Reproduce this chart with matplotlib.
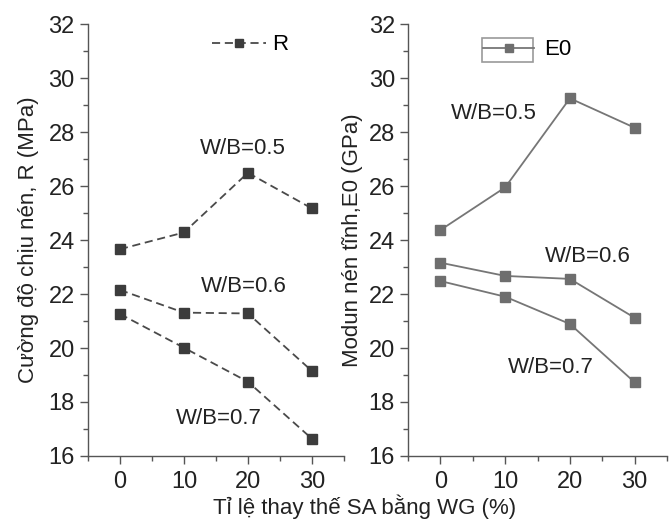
import matplotlib.pyplot as plt
from matplotlib.patches import Rectangle
from matplotlib.ticker import MultipleLocator

plt.rcParams['font.family'] = ['Liberation Sans', 'DejaVu Sans']

# Ti le thay the SA bang WG (%)
replace_pct = [0, 10, 20, 30]

# Cuong do chiu nen R (MPa)
r_wb05 = [23.66, 24.28, 26.49, 25.17]
r_wb06 = [22.15, 21.31, 21.28, 19.15]
r_wb07 = [21.26, 20.01, 18.75, 16.64]

# Modun nen tinh E0 (GPa)
e_wb05 = [24.37, 25.95, 29.25, 28.16]
e_wb06 = [23.16, 22.67, 22.56, 21.12]
e_wb07 = [22.48, 21.90, 20.89, 18.73]

wb_labels = ['W/B=0.5', 'W/B=0.6', 'W/B=0.7']

TICK = 17
TXT = 16

fig = plt.figure(figsize=(6.69, 5.21), dpi=100)
ax1 = fig.add_axes([0.1315, 0.1248, 0.3825, 0.829])
ax2 = fig.add_axes([0.610, 0.1248, 0.387, 0.829])

dark = '#3c3c3c'
gray = '#767676'

for i, ys in enumerate([r_wb05, r_wb06, r_wb07]):
    ax1.plot(replace_pct, ys, linestyle=(0, (4.5, 2.6)), color='#4a4a4a', lw=1.3,
             marker='s', ms=7, mfc=dark, mec=dark, label='R' if i == 0 else None)
for i, ys in enumerate([e_wb05, e_wb06, e_wb07]):
    ax2.plot(replace_pct, ys, '-', color=gray, lw=1.3,
             marker='s', ms=7, mfc='#6e6e6e', mec='#6e6e6e', label='E0' if i == 0 else None)

for ax in (ax1, ax2):
    ax.set_xlim(-5, 35)
    ax.set_ylim(16, 32)
    ax.xaxis.set_major_locator(MultipleLocator(10))
    ax.xaxis.set_minor_locator(MultipleLocator(5))
    ax.yaxis.set_major_locator(MultipleLocator(2))
    ax.yaxis.set_minor_locator(MultipleLocator(1))
    ax.spines['top'].set_visible(False)
    ax.spines['right'].set_visible(False)
    for s in ('left', 'bottom'):
        ax.spines[s].set_color('#555555')
        ax.spines[s].set_linewidth(1.0)
    ax.tick_params(which='major', direction='out', length=6, width=1.0,
                   color='#555555', labelsize=TICK, labelcolor='#222222')
    ax.tick_params(which='minor', direction='out', length=3.5, width=1.0, color='#555555')
    ax.tick_params(axis='x', which='major', pad=5)

ax1.set_ylabel('Cường độ chịu nén, R (MPa)', fontsize=TXT, color='#222222', labelpad=7)
ax2.set_ylabel('Modun nén tĩnh,E0 (GPa)', fontsize=TXT, color='#222222', labelpad=4)
fig.text(0.545, 0.004, 'Tỉ lệ thay thế SA bằng WG (%)', fontsize=TXT,
         color='#222222', ha='center', va='bottom')

# nhan W/B tren tung do thi
for (x, y), t in zip([(19.2, 27.4), (19.3, 22.26), (15.5, 17.4)], wb_labels):
    ax1.text(x, y, t, fontsize=TXT, ha='center', va='center', color='#222222')
for (x, y), t in zip([(8.3, 28.7), (22.8, 23.4), (17.0, 19.26)], wb_labels):
    ax2.text(x, y, t, fontsize=TXT, ha='center', va='center', color='#222222')

ax1.legend(loc='center left', bbox_to_anchor=(0.408, 0.952), frameon=False,
           fontsize=TXT, handlelength=2.4, handletextpad=0.3, markerscale=0.85)
ax2.legend(loc='center left', bbox_to_anchor=(0.212, 0.94), frameon=False,
           fontsize=TXT, handlelength=2.3, handletextpad=0.45, markerscale=0.85)
# khung quanh mau ky hieu E0
ax2.add_patch(Rectangle((0.286, 0.912), 0.197, 0.056, transform=ax2.transAxes,
                        fill=False, edgecolor='#9a9a9a', lw=1.2, clip_on=False))

fig.savefig('out.png', dpi=100)
